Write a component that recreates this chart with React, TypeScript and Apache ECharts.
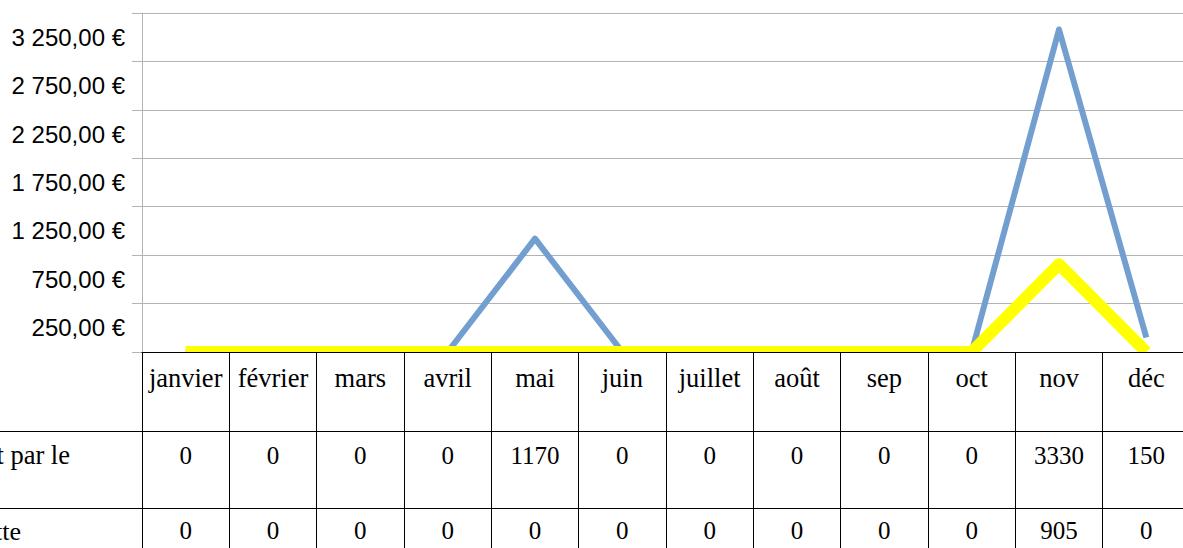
import React, { useEffect, useRef } from "react";
import * as echarts from "echarts";

const months = ["janvier", "février", "mars", "avril", "mai", "juin", "juillet", "août", "sep", "oct", "nov", "déc"];
const payeParClient = [0, 0, 0, 0, 1170, 0, 0, 0, 0, 0, 3330, 150];
const recette = [0, 0, 0, 0, 0, 0, 0, 0, 0, 0, 905, 0];
const rowLabels = ["Montant payé directement par le", "Recette"];
const yMin = 0;
const yMax = 3500;
const gridStep = 500;
const labelStep = 250;

function euro(v: number): string {
  const s = v.toFixed(2);
  const [i, d] = s.split(".");
  return i.replace(/\B(?=(\d{3})+(?!\d))/g, " ") + "," + d + " €";
}

export default function App() {
  const ref = useRef<HTMLDivElement>(null);
  useEffect(() => {
    if (!ref.current) return;
    const chart = echarts.init(ref.current, null, { renderer: "svg" });
    const serif = "'Liberation Serif', 'Times New Roman', serif";
    const sans = "'Liberation Sans', Arial, sans-serif";
    chart.setOption({
      animation: false,
      backgroundColor: "#ffffff",
      grid: { left: 142, top: 13, bottom: 196, right: 0, containLabel: false },
      xAxis: {
        type: "category",
        data: months,
        boundaryGap: true,
        z: 6,
        axisLine: { show: true, lineStyle: { color: "#000000", width: 1 } },
        axisTick: { show: true, interval: 0, length: 196, lineStyle: { color: "#000000", width: 1 } },
        axisLabel: {
          interval: 0,
          margin: 6,
          color: "#000000",
          fontFamily: serif,
          fontSize: 25,
          formatter: (value: string, idx: number) =>
            `{m|${value}}\n{a|${payeParClient[idx]}}\n{b|${recette[idx]}}`,
          rich: {
            m: { fontFamily: serif, fontSize: 26.5, color: "#000", lineHeight: 40 },
            a: { fontFamily: serif, fontSize: 25, color: "#000", lineHeight: 114 },
            b: { fontFamily: serif, fontSize: 25, color: "#000", lineHeight: 36 },
          },
        },
        splitLine: { show: false },
      },
      yAxis: [
        {
          type: "value",
          position: "left",
          min: yMin,
          max: yMax,
          interval: gridStep,
          axisLine: { show: true, lineStyle: { color: "#b3b3b3", width: 1 } },
          axisTick: { show: true, length: 10, lineStyle: { color: "#b3b3b3", width: 1 } },
          axisLabel: { show: false },
          splitLine: { show: true, lineStyle: { color: "#b3b3b3", width: 1 } },
        },
        {
          type: "value",
          position: "left",
          min: yMin,
          max: yMax,
          interval: labelStep,
          axisLine: { show: false },
          axisTick: { show: false },
          splitLine: { show: false },
          axisLabel: {
            show: true,
            margin: 17,
            color: "#000000",
            fontFamily: sans,
            fontSize: 24,
            formatter: (v: number) => (v % gridStep === labelStep ? euro(v) : ""),
          },
        },
      ],
      series: [
        {
          type: "line",
          name: rowLabels[0],
          data: payeParClient,
          yAxisIndex: 0,
          symbol: "none",
          z: 2,
          lineStyle: { color: "#729fcf", width: 6, join: "round", cap: "butt" },
        },
        {
          type: "line",
          name: rowLabels[1],
          data: recette,
          yAxisIndex: 0,
          symbol: "none",
          z: 3,
          lineStyle: { color: "#ffff00", width: 12, join: "round", cap: "butt" },
        },
      ],
      graphic: [
        {
          type: "rect",
          z: 5,
          silent: true,
          shape: { x: 0, y: 353, width: 1190, height: 200 },
          style: { fill: "#ffffff" },
        },
        {
          type: "line",
          z: 7,
          silent: true,
          shape: { x1: 0, y1: 431.5, x2: 1190, y2: 431.5 },
          style: { stroke: "#000000", lineWidth: 1 },
        },
        {
          type: "line",
          z: 7,
          silent: true,
          shape: { x1: 0, y1: 508.5, x2: 1190, y2: 508.5 },
          style: { stroke: "#000000", lineWidth: 1 },
        },
        {
          type: "text",
          z: 7,
          silent: true,
          style: {
            text: rowLabels[0],
            x: 70,
            y: 455,
            align: "right",
            verticalAlign: "middle",
            fontFamily: serif,
            fontSize: 26.5,
            fill: "#000000",
          },
        },
        {
          type: "text",
          z: 7,
          silent: true,
          style: {
            text: rowLabels[1],
            x: 21,
            y: 531,
            align: "right",
            verticalAlign: "middle",
            fontFamily: serif,
            fontSize: 26,
            fill: "#000000",
          },
        },
      ],
    });
    return () => chart.dispose();
  }, []);
  return (
    <div style={{ position: "fixed", left: 0, top: 0, width: 1183, height: 548, overflow: "hidden", background: "#fff" }}>
      <div ref={ref} style={{ position: "absolute", left: 0, top: 0, width: 1190, height: 548 }} />
    </div>
  );
}
